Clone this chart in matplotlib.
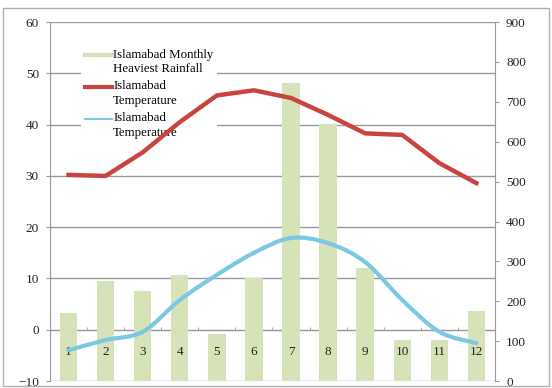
import matplotlib
matplotlib.use("Agg")
import matplotlib.pyplot as plt
import numpy as np
from matplotlib.path import Path
from matplotlib.patches import PathPatch, Rectangle
from matplotlib.lines import Line2D
from matplotlib.legend_handler import HandlerLine2D

plt.rcParams['font.family'] = ['Liberation Serif', 'DejaVu Serif']

months = [1, 2, 3, 4, 5, 6, 7, 8, 9, 10, 11, 12]
rainfall = [171, 251, 226, 266, 118, 259, 748, 645, 284, 103, 103, 176]
temp_high = [30.2, 30.0, 34.6, 40.5, 45.7, 46.7, 45.2, 41.9, 38.3, 38.0, 32.5, 28.6]
temp_low = [-4.0, -2.0, -0.4, 5.8, 10.7, 15.0, 17.9, 16.9, 13.2, 5.8, -0.4, -2.6]

rain_label = "Islamabad Monthly\nHeaviest Rainfall"
high_label = "Islamabad\nTemperature"
low_label = "Islamabad\nTemperature"

bar_col = "#d6e3b8"
red = "#c9443f"
blue = "#7cc7e3"
grid_col = "#9a9a9a"
txt_col = "#222222"
LSP = 1.3


class TopLineHandler(HandlerLine2D):
    # put the legend line next to the first text line, like Excel does
    def create_artists(self, legend, orig_handle, xdescent, ydescent, width, height, fontsize, trans):
        arts = super().create_artists(legend, orig_handle, xdescent, ydescent,
                                      width, height, fontsize, trans)
        for a in arts:
            a.set_ydata(np.asarray(a.get_ydata(), float) + fontsize * 0.55)
        return arts


fig = plt.figure(figsize=(5.52, 3.88), dpi=100)
fig.patches.append(Rectangle((0.006, 0.004), 0.988, 0.975, transform=fig.transFigure,
                             fill=False, edgecolor="#b0b0b0", lw=1))

# left scale axes: grid
ax = fig.add_axes([0.0906, 0.018, 0.806, 0.925])
ax.set_xlim(0.5, 12.5)
ax.set_ylim(-10, 60)
ax.set_yticks(range(-10, 61, 10))
ax.grid(axis='y', color=grid_col, lw=1)
ax.spines['top'].set_visible(False)
ax.spines['right'].set_visible(False)
ax.spines['bottom'].set_visible(False)
ax.spines['left'].set_color(grid_col)
ax.tick_params(axis='x', which='both', length=0, labelbottom=False)
ax.tick_params(axis='y', length=3, color=grid_col, labelsize=9.5, labelcolor=txt_col, pad=5)

# right scale axes: bars, lines and category axis on top
ax2 = ax.twinx()
ax2.set_ylim(0, 900)
ax2.set_yticks(range(0, 901, 100))
ax2.tick_params(axis='y', length=3, color=grid_col, labelsize=9.5, labelcolor=txt_col, pad=5)
for s in ['top', 'left']:
    ax2.spines[s].set_visible(False)
ax2.spines['right'].set_color(grid_col)
ax2.xaxis.set_visible(True)
ax2.spines['bottom'].set_position(('axes', 1 / 7))
ax2.spines['bottom'].set_color(grid_col)
ax2.spines['bottom'].set_zorder(0.5)
ax2.set_xticks(months)
ax2.set_xticklabels([str(m) for m in months])
ax2.set_xticks(np.arange(1.5, 12.5, 1), minor=True)
ax2.tick_params(axis='x', which='major', length=0, pad=12, labelsize=9.5, labelcolor=txt_col)
ax2.tick_params(axis='x', which='minor', length=2.5, direction='in', color=grid_col)
ax2.bar(months, rainfall, width=0.47, color=bar_col, zorder=1)

tr = ax.transData
ax2.plot(months, temp_high, color=red, lw=3.2, transform=tr, zorder=3, solid_joinstyle='round')

# smooth blue curve (Catmull-Rom as cubic Bezier)
pts = np.column_stack([months, temp_low]).astype(float)
ext = np.vstack([pts[0], pts, pts[-1]])
verts = [tuple(pts[0])]
codes = [Path.MOVETO]
for i in range(1, len(ext) - 2):
    p0, p1, p2, p3 = ext[i - 1], ext[i], ext[i + 1], ext[i + 2]
    c1 = p1 + (p2 - p0) / 6
    c2 = p2 - (p3 - p1) / 6
    verts += [tuple(c1), tuple(c2), tuple(p2)]
    codes += [Path.CURVE4] * 3
ax2.add_patch(PathPatch(Path(verts, codes), fill=False, edgecolor=blue, lw=3,
                        transform=tr, zorder=3, capstyle='round'))

handles = [Line2D([], [], color=bar_col, lw=3),
           Line2D([], [], color=red, lw=3),
           Line2D([], [], color=blue, lw=1.5)]
hmap = {h: TopLineHandler() for h in handles}
leg = ax2.legend(handles, [rain_label, high_label, low_label], loc='upper left',
                 bbox_to_anchor=(0.055, 0.955), frameon=True, fancybox=False,
                 edgecolor='none', facecolor='white', framealpha=1,
                 fontsize=9.3, handlelength=2.1, handletextpad=0.1,
                 labelspacing=0.4, borderpad=0.3, handler_map=hmap)
for t in leg.get_texts():
    t.set_linespacing(LSP)
leg.set_zorder(2)

fig.savefig("out.png", dpi=100)
